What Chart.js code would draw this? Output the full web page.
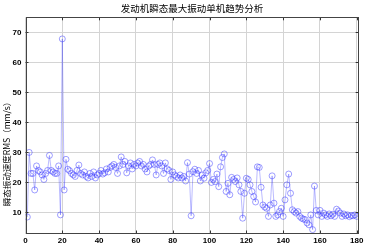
<!DOCTYPE html>
<html>
<head>
<meta charset="utf-8">
<script src="https://cdn.jsdelivr.net/npm/chart.js@4/dist/chart.umd.min.js"></script>
<style>
html,body{margin:0;padding:0;background:#fff;}
#wrap{width:366px;height:247px;position:relative;}
</style>
</head>
<body>
<div id="wrap"><canvas id="c" width="366" height="247"></canvas></div>
<script>
const titleText = "发动机瞬态最大振动单机趋势分析";
const yAxisTitle = "瞬态振动速度RMS（mm/s）";
const xTickLabels = [0,20,40,60,80,100,120,140,160,180];
const yTickLabels = [10,20,30,40,50,60,70];
const sampleIndex = Array.from({length:180}, (_, i) => i + 1);
const rmsValues = [
 8.5,30,23,23,17.5,25.5,24,23.5,22.5,21,
 23,24,29,24,23.5,23,23,25.5,9.2,67.8,
 17.5,27.7,24.4,23.9,23,22.5,22,24,25.8,23,
 22.5,23.5,22,21.5,23,22,23.5,21.5,22.5,23,
 24,22.8,23.2,24.5,23.5,25,25.5,26,25,23,
 25.5,28.5,26,27,23.2,25.5,26.5,24.5,26,25.5,
 26.5,27,25.5,26,24.5,23.5,25.5,26,27.5,26,
 22.5,26,26.5,25.5,23,26.5,24.5,24,21,23.5,
 22.5,22,21.5,22.5,21.5,22,20.5,26.6,22.8,8.9,
 23.6,24.4,23,24,20.5,22.5,21.4,23.2,24,26.3,
 20,21,20.3,22.8,18.6,25.2,28.3,29.5,17,19.7,
 15.9,21.7,21,20.3,21.5,19.2,17,8.1,16.4,21.4,
 21,19.2,17,15.3,13.5,25.2,25,18.4,12.5,11.8,
 11.4,8.7,12.5,22.2,13.1,8.7,9.2,10.3,11.4,8.7,
 14.2,19.2,22.8,16.4,10.9,10.3,9.8,10.3,8.7,8.1,
 7.8,7.6,6.5,5.9,9.2,4.3,18.8,10.7,9.2,10.7,
 8.7,9.8,9.2,8.7,9.5,8.9,9.4,8.7,11.1,10.5,
 9.8,8.7,9.5,8.9,9.2,8.6,9,8.9,9.2,8.7
];

const points = sampleIndex.map((x, i) => ({x: x, y: rmsValues[i]}));

const frame = {
  id: 'frame',
  afterDraw(chart) {
    const {ctx, chartArea: a} = chart;
    ctx.save();
    ctx.strokeStyle = '#333';
    ctx.lineWidth = 1;
    const xs = chart.scales.x, ys = chart.scales.y;
    ctx.beginPath();
    xTickLabels.forEach(v => {
      const px = Math.round(xs.getPixelForValue(v)) + 0.5;
      ctx.moveTo(px, a.bottom); ctx.lineTo(px, a.bottom - 3);
      ctx.moveTo(px, a.top); ctx.lineTo(px, a.top + 3);
    });
    yTickLabels.forEach(v => {
      const py = Math.round(ys.getPixelForValue(v)) + 0.5;
      ctx.moveTo(a.left, py); ctx.lineTo(a.left + 3, py);
      ctx.moveTo(a.right, py); ctx.lineTo(a.right - 3, py);
    });
    ctx.stroke();
    ctx.strokeStyle = '#444';
    ctx.strokeRect(Math.round(a.left) + 0.5, Math.round(a.top) + 0.5,
                   Math.round(a.right - a.left) - 1, Math.round(a.bottom - a.top));
    ctx.fillStyle = '#000';
    ctx.font = '8.5px "Noto Sans CJK SC"';
    ctx.textAlign = 'center';
    ctx.textBaseline = 'middle';
    ctx.translate(7, 152);
    ctx.rotate(-Math.PI / 2);
    ctx.fillText(yAxisTitle, 0, 0);
    ctx.restore();
  }
};

new Chart(document.getElementById('c'), {
  type: 'line',
  data: {
    datasets: [{
      data: points,
      borderColor: 'rgba(30,30,255,0.3)',
      borderWidth: 1,
      pointRadius: 3,
      pointBorderWidth: 0.8,
      pointBorderColor: 'rgba(60,60,255,0.62)',
      pointBackgroundColor: 'rgba(0,0,0,0)',
      pointStyle: 'circle',
      tension: 0,
      fill: false
    }]
  },
  options: {
    responsive: false,
    animation: false,
    layout: {padding: {left: 0, right: 7, top: 0, bottom: 0}},
    plugins: {
      legend: {display: false},
      tooltip: {enabled: false},
      title: {
        display: true,
        text: titleText,
        fullSize: false,
        color: '#000',
        font: {family: '"Noto Sans CJK SC"', size: 9.5, weight: 'normal', lineHeight: 1.2},
        padding: {top: 3, bottom: 2.9}
      }
    },
    scales: {
      x: {
        type: 'linear',
        min: 0,
        max: 181,
        afterFit(s) { s.height = 13.5; },
        afterBuildTicks(s) { s.ticks = xTickLabels.map(v => ({value: v})); },
        grid: {color: '#d4d4d4', lineWidth: 1, drawTicks: false},
        border: {display: false},
        ticks: {
          padding: 2.5,
          color: '#000',
          maxRotation: 0,
          font: {family: '"Liberation Sans"', size: 8, weight: 'bold'}
        }
      },
      y: {
        type: 'linear',
        min: 3,
        max: 75,
        afterFit(s) { s.width = 25.5; },
        afterBuildTicks(s) { s.ticks = yTickLabels.map(v => ({value: v})); },
        grid: {color: '#d4d4d4', lineWidth: 1, drawTicks: false},
        border: {display: false},
        ticks: {
          padding: 4,
          color: '#000',
          font: {family: '"Liberation Sans"', size: 8, weight: 'bold'}
        }
      }
    }
  },
  plugins: [frame]
});
</script>
</body>
</html>
